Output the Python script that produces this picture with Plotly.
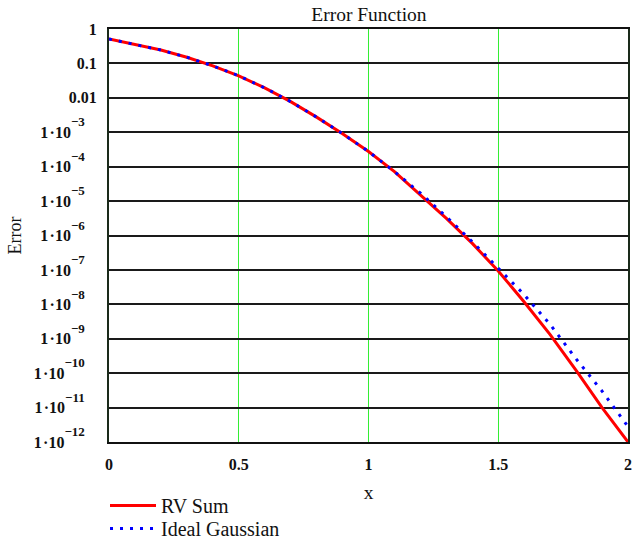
import plotly.graph_objects as go

# ---- data ----
x_vals = [0.0, 0.1, 0.2, 0.3, 0.4, 0.5, 0.6, 0.7, 0.8, 0.9, 1.0,
          1.1, 1.2, 1.3, 1.4, 1.5, 1.6, 1.7, 1.8, 1.9, 2.0]
rv_sum = [0.513, 0.363, 0.245, 0.151, 0.0851, 0.0437, 0.0195, 7.76e-3, 2.75e-3,
          9.1e-4, 2.75e-4, 7.2e-5, 1.48e-5, 3.16e-6, 5.9e-7, 9.3e-8, 1.17e-8,
          1.32e-9, 1.2e-10, 1.0e-11, 1.0e-12]
ideal_gaussian = [0.513, 0.363, 0.245, 0.151, 0.0851, 0.0437, 0.0195, 7.76e-3, 2.75e-3,
                  9.1e-4, 2.75e-4, 7.2e-5, 1.7e-5, 3.5e-6, 6.6e-7, 1.12e-7, 1.9e-8,
                  2.6e-9, 2.6e-10, 3.0e-11, 2.8e-12]

y_tick_vals = [1, 0.1, 0.01, 1e-3, 1e-4, 1e-5, 1e-6, 1e-7, 1e-8, 1e-9, 1e-10, 1e-11, 1e-12]
y_tick_exps = [None, None, None, 3, 4, 5, 6, 7, 8, 9, 10, 11, 12]
y_tick_plain = ["1", "0.1", "0.01"]
x_tick_vals = [0, 0.5, 1, 1.5, 2]
x_tick_text = ["0", "0.5", "1", "1.5", "2"]

def tick_label(i):
    e = y_tick_exps[i]
    if e is None:
        return y_tick_plain[i]
    return ('1\u200a\u00b710<sup><sup><span style="font-size:13px">\u2212'
            + str(e) + '</span></sup></sup>\u00a0\u00a0\u00a0')

y_tick_text = [tick_label(i) for i in range(len(y_tick_vals))]

SERIF = "Liberation Serif"
INK = "#111111"

fig = go.Figure()
fig.add_trace(go.Scatter(
    x=x_vals, y=rv_sum, mode="lines", name="RV Sum", legend="legend",
    line=dict(color="#ff0000", width=3),
))
fig.add_trace(go.Scatter(
    x=x_vals, y=ideal_gaussian, mode="lines", name="Ideal Gaussian", legend="legend2",
    line=dict(color="#0000ff", width=3, dash="3px,7px"),
))

legend_common = dict(
    xref="container", yref="container", xanchor="left", yanchor="top",
    orientation="v", font=dict(family=SERIF, size=20, color=INK),
    bgcolor="rgba(0,0,0,0)", borderwidth=0, itemwidth=46,
)

fig.update_layout(
    width=636, height=544,
    margin=dict(l=109, r=8, t=29, b=102, pad=0, autoexpand=False),
    paper_bgcolor="white", plot_bgcolor="white",
    font=dict(family=SERIF, color=INK),
    title=dict(text="Error Function", x=0.5801, xref="container", xanchor="center",
               y=1 - 14.5 / 544, yref="container", yanchor="middle",
               font=dict(family=SERIF, size=19.5, color=INK)),
    showlegend=True,
    legend=dict(x=105 / 636, y=1 - 486 / 544, **legend_common),
    legend2=dict(x=105 / 636, y=1 - 509 / 544, **legend_common),
    xaxis=dict(
        range=[0, 2], tickvals=x_tick_vals, ticktext=x_tick_text,
        showgrid=True, gridcolor="#33ee33", gridwidth=1.1,
        showline=True, linecolor=INK, linewidth=2, mirror=True,
        ticks="", tickfont=dict(family=SERIF, size=16, color=INK, weight="bold"),
        ticklabelstandoff=7, automargin=False,
        zeroline=False,
        title=dict(text="x", font=dict(family=SERIF, size=19.5, color=INK), standoff=13),
    ),
    yaxis=dict(
        type="log", range=[-12, 0], tickvals=y_tick_vals, ticktext=y_tick_text,
        showgrid=True, gridcolor="#1a1a1a", gridwidth=1.8,
        showline=True, linecolor="#1a2a1a", linewidth=2, mirror=True,
        ticks="", tickfont=dict(family=SERIF, size=16, color=INK, weight="bold"),
        ticklabelstandoff=7, automargin=False,
        zeroline=False,
    ),
    annotations=[dict(
        text="Error", textangle=-90, xref="paper", yref="paper",
        x=(14 - 109) / 519, y=0.5, xanchor="center", yanchor="middle",
        showarrow=False, font=dict(family=SERIF, size=18, color=INK),
    )],
)

fig.write_html("out.html")
